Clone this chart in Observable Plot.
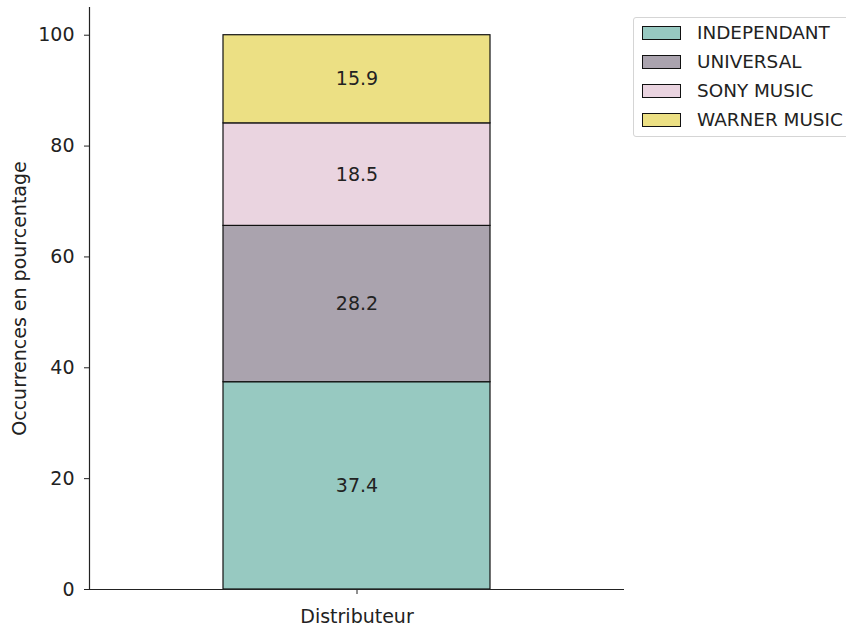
<!DOCTYPE html>
<html>
<head>
<meta charset="utf-8">
<script src="https://cdn.jsdelivr.net/npm/d3@7"></script>
<script src="https://cdn.jsdelivr.net/npm/@observablehq/plot@0.6"></script>
<style>
  html, body { margin: 0; padding: 0; background: #fff; overflow: hidden; }
  #wrap { position: relative; width: 846px; height: 629px; overflow: hidden; font-family: "DejaVu Sans", sans-serif; }
  #legend { position: absolute; left: 633px; top: 17px; width: 240px; height: 120px; border: 1px solid #d5d5d5; border-radius: 3px; background: rgba(255,255,255,0.8); box-sizing: border-box; }
  .item { position: absolute; left: 0; height: 20px; display: flex; align-items: center; white-space: nowrap; }
  .sw { position: absolute; left: 8px; width: 39px; height: 14px; top: 3px; border: 1.2px solid #111; box-sizing: border-box; }
  .lab { position: absolute; left: 63px; font-size: 18.4px; color: #222; line-height: 20px; top: 0; }
</style>
</head>
<body>
<div id="wrap"><div id="chart"></div><div id="legend"></div></div>
<script>
const categories = ["INDEPENDANT", "UNIVERSAL", "SONY MUSIC", "WARNER MUSIC"];
const values = [37.4, 28.2, 18.5, 15.9];
const colors = ["#97c9c1", "#aaa3ae", "#ead4e0", "#ece084"];
const xCategory = "Distributeur";
const yTicks = [0, 20, 40, 60, 80, 100];

const data = categories.map((name, i) => ({name, value: values[i], group: xCategory}));

const chart = Plot.plot({
  width: 846,
  height: 629,
  marginLeft: 89,
  marginRight: 222,
  marginTop: 7,
  marginBottom: 40,
  style: {fontFamily: "DejaVu Sans, sans-serif", fontSize: "19px", color: "#222", background: "white"},
  x: {type: "band", domain: [xCategory], paddingInner: 0, paddingOuter: 0.5, label: null},
  y: {domain: [0, 105], label: null},
  color: {domain: categories, range: colors},
  marks: [
    Plot.barY(data, Plot.stackY({x: "group", y: "value", fill: "name", stroke: "#111", strokeWidth: 1.2})),
    Plot.text(data, Plot.stackY({x: "group", y: "value", text: d => d.value.toFixed(1), fill: "#222", fontSize: 19})),
    Plot.axisY({ticks: yTicks, tickSize: 5, tickPadding: 10, label: null, stroke: "#222"}),
    Plot.axisX({tickSize: 5, tickPadding: 15, label: null, stroke: "#222"}),
    Plot.ruleY([0], {stroke: "#222", strokeWidth: 1.2}),
    Plot.frame({anchor: "left", stroke: "#222", strokeWidth: 1.2}),
    Plot.text(["Occurrences en pourcentage"], {frameAnchor: "left", textAnchor: "middle", rotate: -90, dx: -70, fill: "#222", fontSize: 19})
  ]
});
document.getElementById("chart").appendChild(chart);

const legend = document.getElementById("legend");
categories.forEach((name, i) => {
  const item = document.createElement("div");
  item.className = "item";
  item.style.top = (5 + i * 29) + "px";
  const sw = document.createElement("div");
  sw.className = "sw";
  sw.style.background = colors[i];
  const lab = document.createElement("div");
  lab.className = "lab";
  lab.textContent = name;
  item.appendChild(sw);
  item.appendChild(lab);
  legend.appendChild(item);
});
</script>
</body>
</html>
